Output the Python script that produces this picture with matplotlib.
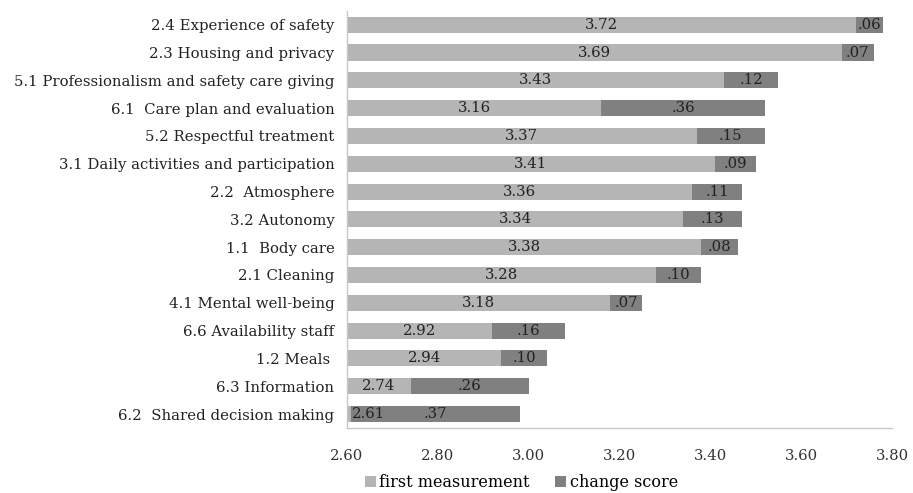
import matplotlib
matplotlib.use("Agg")
import matplotlib.pyplot as plt
import numpy as np

plt.rcParams['font.family'] = ['DejaVu Serif']

# quality domains, top to bottom
domains = [
    "2.4 Experience of safety",
    "2.3 Housing and privacy",
    "5.1 Professionalism and safety care giving",
    "6.1  Care plan and evaluation",
    "5.2 Respectful treatment",
    "3.1 Daily activities and participation",
    "2.2  Atmosphere",
    "3.2 Autonomy",
    "1.1  Body care",
    "2.1 Cleaning",
    "4.1 Mental well-being",
    "6.6 Availability staff",
    "1.2 Meals ",
    "6.3 Information",
    "6.2  Shared decision making",
]
first = [3.72, 3.69, 3.43, 3.16, 3.37, 3.41, 3.36, 3.34, 3.38, 3.28, 3.18, 2.92, 2.94, 2.74, 2.61]
change = [.06, .07, .12, .36, .15, .09, .11, .13, .08, .10, .07, .16, .10, .26, .37]

light = '#b5b5b5'
dark = '#808080'
base = 2.60

fig = plt.figure(figsize=(9.13, 4.93), dpi=100)
ax = fig.add_axes([0.380, 0.132, 0.597, 0.846])

y = np.arange(len(domains))[::-1]
first = np.array(first)
change = np.array(change)

ax.barh(y, first - base, left=base, height=0.58, color=light, label='first measurement')
ax.barh(y, change, left=first, height=0.58, color=dark, label='change score')

fs = 10.7
for yi, f, c in zip(y, first, change):
    # narrow first segment: put its value just inside the bar start
    if f - base < 0.05:
        ax.text(base + 0.01, yi, "%.2f" % f, ha='left', va='center', fontsize=fs, color='#222222')
    else:
        ax.text((base + f) / 2, yi, "%.2f" % f, ha='center', va='center', fontsize=fs, color='#222222')
    lab = ("%.2f" % c)[1:]
    ax.text(f + c / 2, yi, lab, ha='center', va='center', fontsize=fs, color='#222222')

ax.set_xlim(2.60, 3.80)
ax.set_ylim(-0.5, len(domains) - 0.5)
ax.set_xticks(np.arange(2.60, 3.81, 0.20))
ax.set_xticklabels(["%.2f" % t for t in np.arange(2.60, 3.81, 0.20)], fontsize=fs, color='#333333')
ax.set_yticks(y)
ax.set_yticklabels(domains, fontsize=fs, color='#222222')
ax.tick_params(length=0, pad=9)
ax.tick_params(axis='x', pad=15)

for s in ['top', 'right']:
    ax.spines[s].set_visible(False)
for s in ['left', 'bottom']:
    ax.spines[s].set_color('#c8c8c8')
    ax.spines[s].set_linewidth(1.0)

ax.legend(loc='center', bbox_to_anchor=(0.32, -0.132), ncol=2, frameon=False,
          fontsize=11.5, handlelength=0.7, handleheight=0.7, handletextpad=0.2,
          columnspacing=1.6, borderpad=0)

fig.savefig('out.png', dpi=100)
